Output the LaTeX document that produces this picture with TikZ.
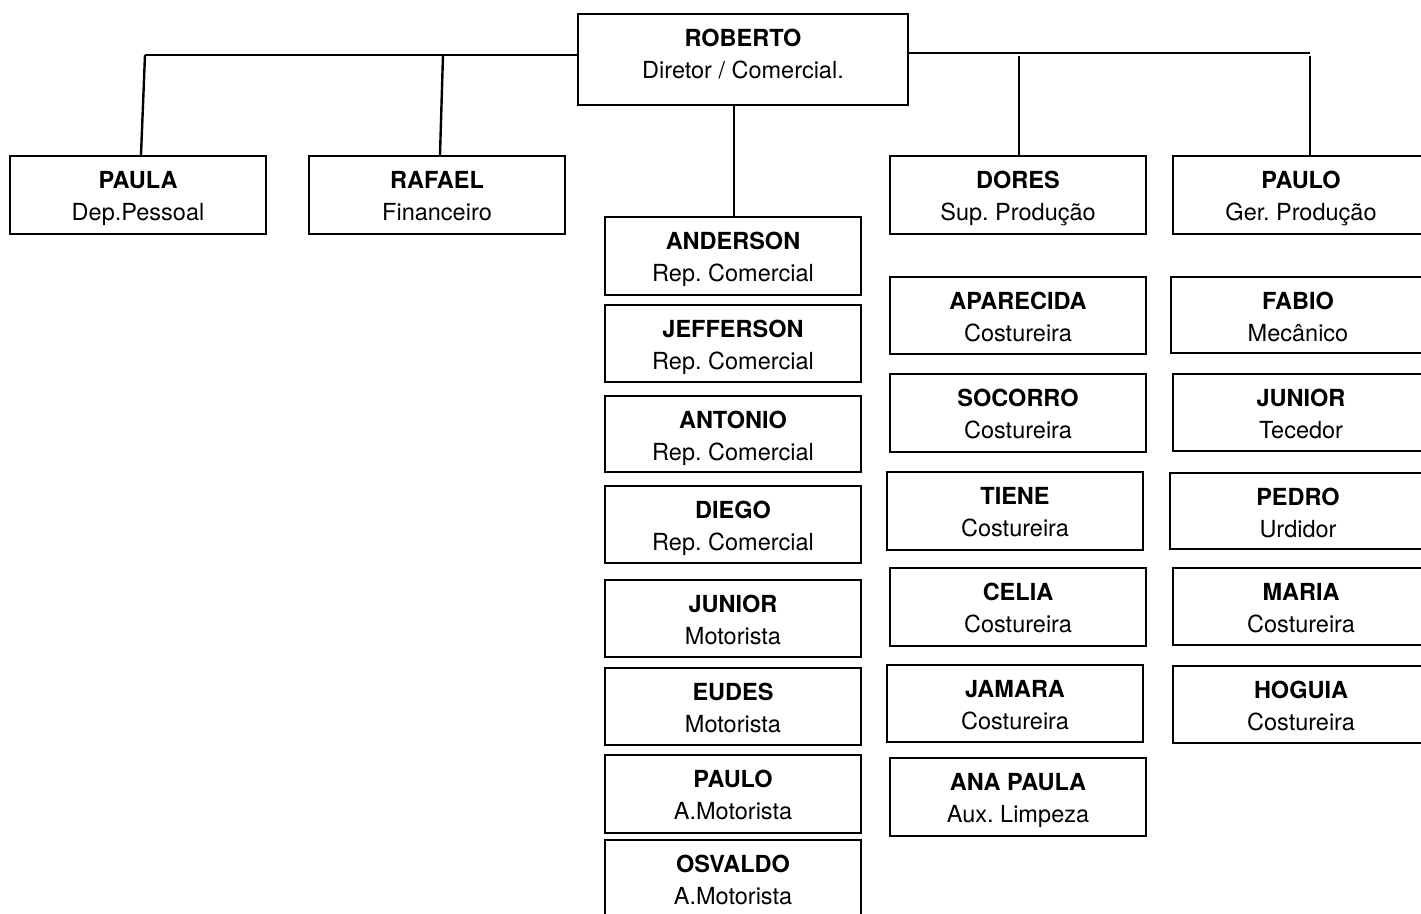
\documentclass[tikz,border=0pt]{standalone}
\usepackage{fontspec}
\setmainfont{TeX Gyre Heros}
\frenchspacing
\tikzset{
  orgrect/.style={draw=black, line width=2.4pt, fill=white, inner sep=0pt},
  conn/.style={draw=black, line width=2.4pt},
  nametext/.style={anchor=base, inner sep=0pt, font=\fontsize{23.5}{28}\selectfont\bfseries},
  roletext/.style={anchor=base, inner sep=0pt, font=\fontsize{23.5}{28}\selectfont}
}
% #1 node name, #2 x1, #3 y1, #4 x2, #5 y2, #6 bold name, #7 role, #8 text centre x
\newcommand\orgbox[8]{%
  \node[orgrect, minimum width={#4-#2}, minimum height={#5-#3}] (#1) at ({(#2+#4)/2},{(#3+#5)/2}) {};
  \node[nametext] (#1-n) at ({#8},{#3+32}) {#6};
  \node[roletext] (#1-r) at ({#8},{#3+64}) {#7};
}
\begin{document}
\begin{tikzpicture}[x=1pt,y=-1pt]
\useasboundingbox (0,0) rectangle (1421,913);
\clip (0,0) rectangle (1421,913);
\fill[white] (0,0) rectangle (1421,913);

\coordinate (jl) at (145,55);
\coordinate (jpaula) at (141,55);
\coordinate (jrafael) at (443,55);
\coordinate (jrafaelb) at (440,55);
\coordinate (jr) at (1310,53);
\coordinate (jdores) at (1019,56);
\coordinate (jpaulo) at (1310,56);

% boxes
\orgbox{roberto}{578}{14}{908}{105}{ROBERTO}{Diretor / Comercial.}{743}
\orgbox{paula}{10}{156}{266}{234}{PAULA}{Dep.Pessoal}{138}
\orgbox{rafael}{309}{156}{565}{234}{RAFAEL}{Financeiro}{437}
\orgbox{dores}{890}{156}{1146}{234}{DORES}{Sup. Produção}{1018}
\orgbox{paulog}{1173}{156}{1430}{234}{PAULO}{Ger. Produção}{1301}

\orgbox{anderson}{605}{217}{861}{295}{ANDERSON}{Rep. Comercial}{733}
\orgbox{jefferson}{605}{305}{861}{382}{JEFFERSON}{Rep. Comercial}{733}
\orgbox{antonio}{605}{396}{861}{472}{ANTONIO}{Rep. Comercial}{733}
\orgbox{diego}{605}{486}{861}{563}{DIEGO}{Rep. Comercial}{733}
\orgbox{juniorm}{605}{580}{861}{657}{JUNIOR}{Motorista}{733}
\orgbox{eudes}{605}{668}{861}{745}{EUDES}{Motorista}{733}
\orgbox{paulom}{605}{755}{861}{833}{PAULO}{A.Motorista}{733}
\orgbox{osvaldo}{605}{840}{861}{925}{OSVALDO}{A.Motorista}{733}

\orgbox{aparecida}{890}{277}{1146}{354}{APARECIDA}{Costureira}{1018}
\orgbox{socorro}{890}{374}{1146}{452}{SOCORRO}{Costureira}{1018}
\orgbox{tiene}{887}{472}{1143}{550}{TIENE}{Costureira}{1015}
\orgbox{celia}{890}{568}{1146}{646}{CELIA}{Costureira}{1018}
\orgbox{jamara}{887}{665}{1143}{742}{JAMARA}{Costureira}{1015}
\orgbox{anapaula}{890}{758}{1146}{836}{ANA PAULA}{Aux. Limpeza}{1018}

\orgbox{fabio}{1171}{277}{1430}{353}{FABIO}{Mecânico}{1298}
\orgbox{juniort}{1173}{374}{1430}{451}{JUNIOR}{Tecedor}{1301}
\orgbox{pedro}{1170}{473}{1430}{549}{PEDRO}{Urdidor}{1298}
\orgbox{maria}{1173}{568}{1430}{645}{MARIA}{Costureira}{1301}
\orgbox{hoguia}{1173}{666}{1430}{743}{HOGUIA}{Costureira}{1301}

% connectors
\draw[conn] ([yshift=4.5pt]roberto.west) -- (jl);
\draw[conn] (jl) -- (jpaula |- paula.north);
\draw[conn] (jrafael) -- (jrafaelb |- rafael.north);
\draw[conn] ([yshift=6.5pt]roberto.east) -- (jr);
\draw[conn] (jdores) -- (jdores |- dores.north);
\draw[conn] (jpaulo) -- (jpaulo |- paulog.north);
\draw[conn] ([xshift=-9pt]roberto.south) -- ([xshift=1pt]anderson.north);
\end{tikzpicture}
\end{document}
